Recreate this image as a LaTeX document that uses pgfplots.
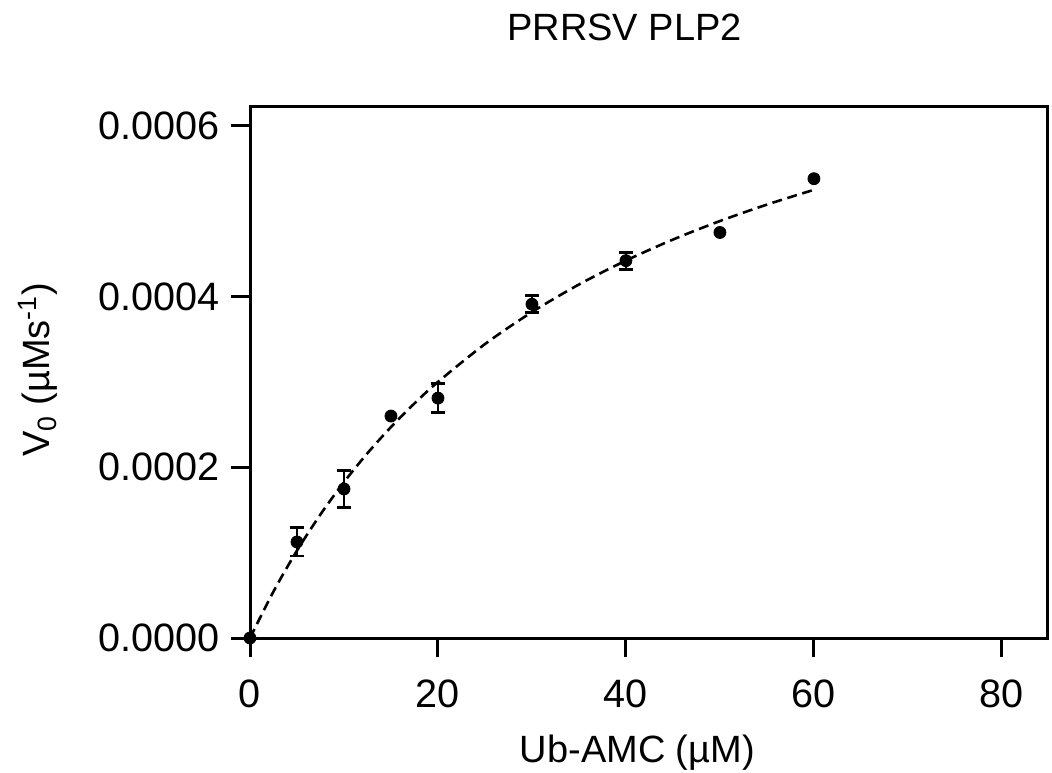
\documentclass[border=0pt]{standalone}
\usepackage{fontspec}
\setmainfont{Liberation Sans}
\usepackage{pgfplots}
\pgfplotsset{compat=1.18}
\begin{document}
\begin{tikzpicture}
\useasboundingbox (-125pt,-67pt) rectangle (401pt,319pt);
\begin{axis}[
  at={(0,0)}, anchor=south west,
  scale only axis, width=398.5pt, height=265.5pt,
  xmin=0, xmax=84.8, ymin=0, ymax=0.000622,
  clip=false,
  axis line style={line width=1.5pt},
  tick style={line width=1.5pt, black},
  major tick length=9.5pt, tick align=outside,
  xtick={0,20,40,60,80},
  ytick={0,0.0002,0.0004,0.0006},
  yticklabels={0.0000,0.0002,0.0004,0.0006},
  scaled y ticks=false,
  xtick pos=bottom, ytick pos=left,
  minor tick num=0,
  /pgf/number format/assume math mode=true,
  ticklabel style={font=\fontsize{19.8}{22}\selectfont},
  xticklabel style={yshift=-8pt},
  yticklabel style={xshift=-2pt},
  title={PRRSV PLP2},
  title style={at={(axis description cs:0.47,1)}, anchor=base, yshift=27pt, font=\fontsize{19}{22}\selectfont},
  xlabel={Ub-AMC (µM)},
  xlabel style={at={(axis description cs:0.486,0)}, anchor=base, yshift=-62pt, font=\fontsize{19}{22}\selectfont},
  ylabel={V\textsubscript{0} (µMs\textsuperscript{-1})},
  ylabel style={at={(axis description cs:-0.266,0.505)}, anchor=center, font=\fontsize{19}{22}\selectfont},
]
% fitted curve (Michaelis-Menten fit)
\addplot[black, line width=1.3pt, dash pattern=on 5pt off 2.8pt, smooth] coordinates {
(0,0) (2.5,0.0000545) (5,0.0001024) (7.5,0.0001448) (10,0.0001826) (12.5,0.0002165)
(15,0.0002471) (17.5,0.0002748) (20,0.0003) (25,0.0003443) (30,0.0003818)
(35,0.0004141) (40,0.0004421) (45,0.0004667) (50,0.0004884) (55,0.0005077) (60,0.000525)
};
% points with error bars
\addplot[black, only marks, mark=*, mark size=3pt,
  error bars/.cd, y dir=both, y explicit,
  error bar style={line width=1.4pt, black},
  error mark options={rotate=90, mark size=3.6pt, line width=1.4pt, black}]
  table[x=x, y=y, y error=e] {
x y e
5 0.0001125 0.0000165
10 0.0001746 0.000022
20 0.000281 0.000017
30 0.000391 0.00001
40 0.000442 0.00001
};
% points without error bars
\addplot[black, only marks, mark=*, mark size=3pt] coordinates {
(0,0) (15,0.00026) (50,0.000475) (60,0.000538)
};
\end{axis}
\end{tikzpicture}
\end{document}
